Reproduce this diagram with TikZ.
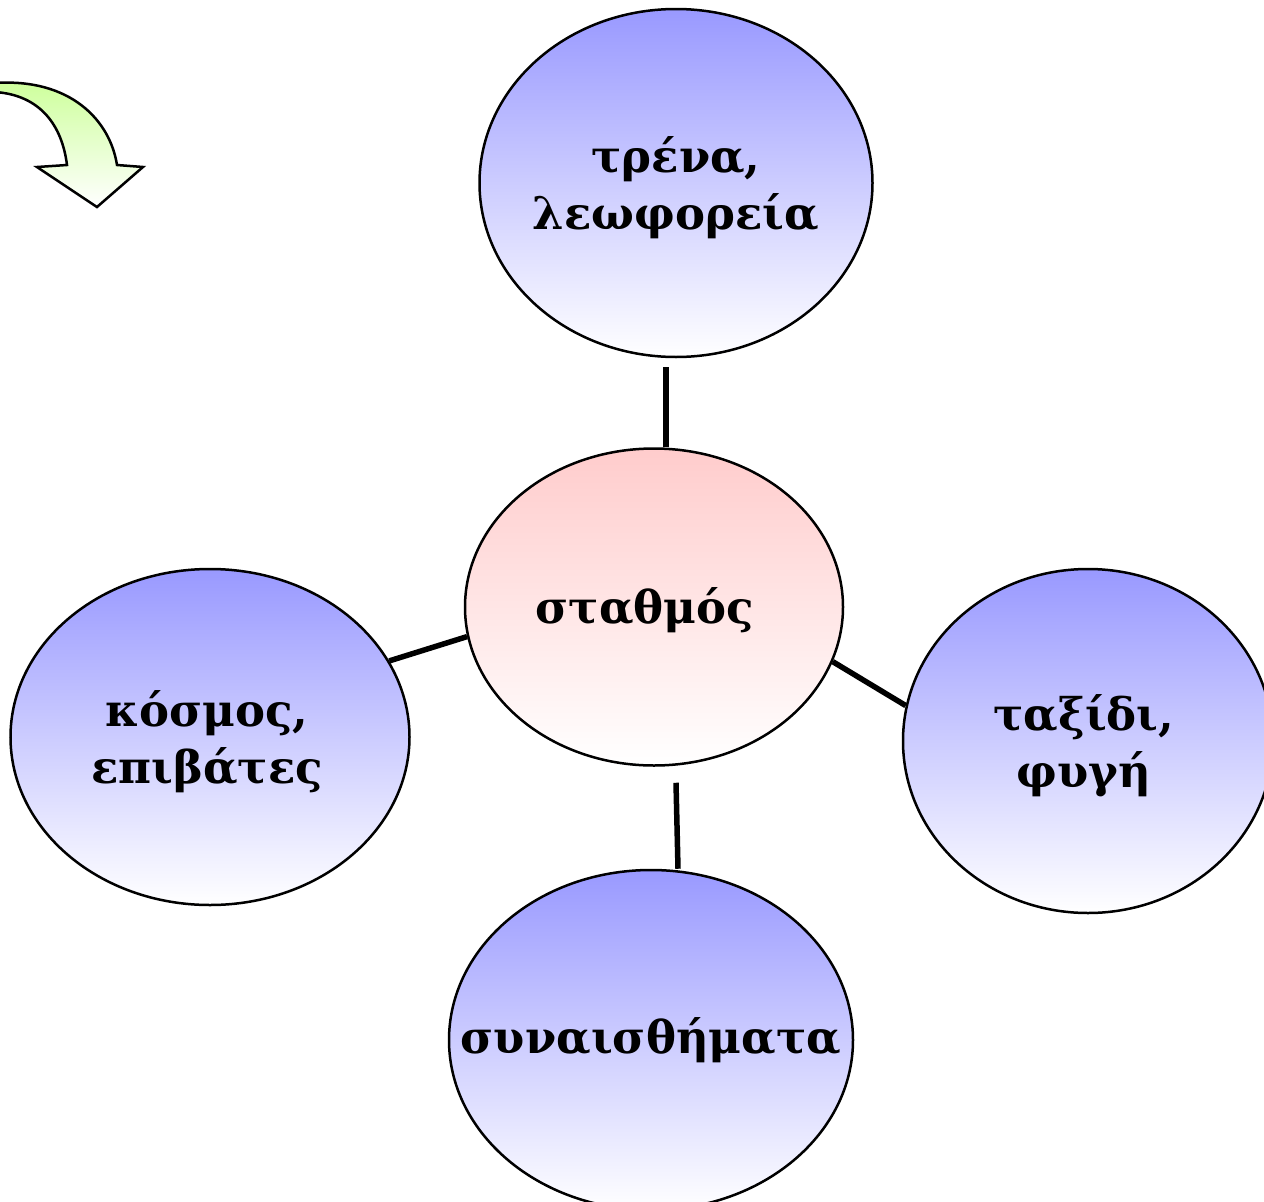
\documentclass[tikz,border=0pt]{standalone}
\usepackage{fontspec}
\setmainfont{DejaVu Serif}
\usetikzlibrary{shapes.geometric}
\definecolor{bubblue}{RGB}{153,153,255}
\definecolor{bubpink}{RGB}{255,204,204}
\definecolor{arrgreen}{RGB}{204,255,153}
\tikzset{
  bub/.style={ellipse, draw=black, line width=2.5pt, top color=bubblue, bottom color=white, inner sep=0pt},
  centbub/.style={bub, top color=bubpink, bottom color=white},
  lbl/.style={align=center, font=\bfseries\fontsize{45}{57}\selectfont, inner sep=0pt},
  link/.style={line width=5.5pt}
}
\begin{document}
\begin{tikzpicture}[x=1pt,y=-1pt]
\useasboundingbox (0,0) rectangle (1264,1202);
\fill[white] (0,0) rectangle (1264,1202);
% curved arrow
\draw[line width=2.5pt, line join=miter, top color=arrgreen, bottom color=white]
  (-5,83) .. controls (70,78) and (110,120) .. (117,165) -- (143,167) -- (97,207) -- (37,167) -- (67,165)
  .. controls (62,125) and (40,95) .. (-5,92) -- cycle;
% bubbles
\node[bub, minimum width=393pt, minimum height=348pt] (top) at (676,183) {};
\node[centbub, minimum width=378pt, minimum height=317pt] (cen) at (654,607) {};
\node[bub, minimum width=399pt, minimum height=336pt] (left) at (210,737) {};
\node[bub, minimum width=370pt, minimum height=344pt] (right) at (1088,741) {};
\node[bub, minimum width=404pt, minimum height=340pt] (bot) at (651,1040) {};
% labels
\node[lbl] (toplbl) at (676,188) {τρένα,\\λεωφορεία};
\node[lbl] (cenlbl) at (645,610) {σταθμός};
\node[lbl] (leftlbl) at (207,742) {κόσμος,\\επιβάτες};
\node[lbl] (rightlbl) at (1084,746) {ταξίδι,\\φυγή};
\node[lbl] (botlbl) at (651,1040) {συναισθήματα};
% connectors
\draw[link] ([xshift=-10pt,yshift=-9pt]top.south) -- ([xshift=12pt]cen.north);
\draw[link] (left.23) -- (cen.189);
\draw[link] (cen.-17) -- (right.169);
\draw[link] ([xshift=22pt,yshift=-16pt]cen.south) -- ([xshift=27pt]bot.north);
\end{tikzpicture}
\end{document}
